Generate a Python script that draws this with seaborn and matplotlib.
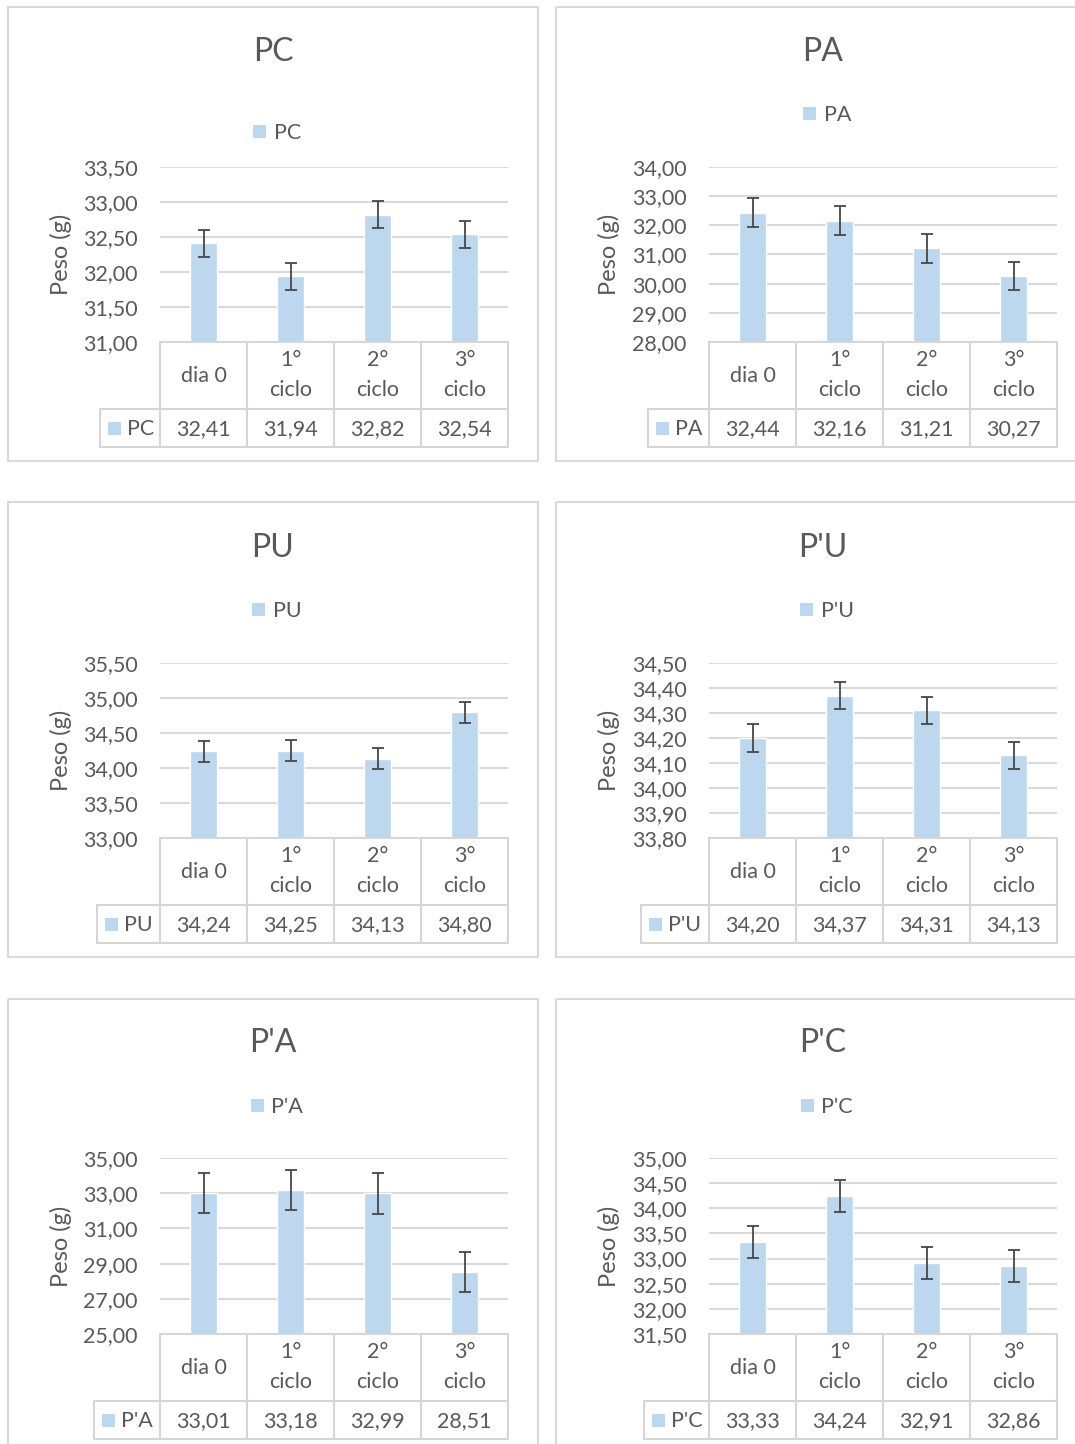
import numpy as np
import matplotlib
matplotlib.use("Agg")
import matplotlib.pyplot as plt
import seaborn as sns
from matplotlib.transforms import Affine2D, blended_transform_factory
from matplotlib.ticker import FuncFormatter
from matplotlib.patches import Rectangle, Patch
from matplotlib.lines import Line2D

# ---- data -------------------------------------------------------------
categories = ["dia 0", "1°\nciclo", "2°\nciclo", "3°\nciclo"]

pc_peso = [32.41, 31.94, 32.82, 32.54]
pa_peso = [32.44, 32.16, 31.21, 30.27]
pu_peso = [34.24, 34.25, 34.13, 34.80]
plu_peso = [34.20, 34.37, 34.31, 34.13]
pla_peso = [33.01, 33.18, 32.99, 28.51]
plc_peso = [33.33, 34.24, 32.91, 32.86]

pc_err = [0.19, 0.19, 0.19, 0.19]
pa_err = [0.49, 0.49, 0.49, 0.49]
pu_err = [0.15, 0.15, 0.15, 0.15]
plu_err = [0.055, 0.055, 0.055, 0.055]
pla_err = [1.15, 1.15, 1.15, 1.15]
plc_err = [0.32, 0.32, 0.32, 0.32]

pc_ticks = [31.00, 31.50, 32.00, 32.50, 33.00, 33.50]
pa_ticks = [28.00, 29.00, 30.00, 31.00, 32.00, 33.00, 34.00]
pu_ticks = [33.00, 33.50, 34.00, 34.50, 35.00, 35.50]
plu_ticks = [33.80, 33.90, 34.00, 34.10, 34.20, 34.30, 34.40, 34.50]
pla_ticks = [25.00, 27.00, 29.00, 31.00, 33.00, 35.00]
plc_ticks = [31.50, 32.00, 32.50, 33.00, 33.50, 34.00, 34.50, 35.00]

titles = ["PC", "PA", "PU", "P'U", "P'A", "P'C"]
y_label = "Peso (g)"

# ---- styling ----------------------------------------------------------
sns.set_style("white")
plt.rcParams["font.family"] = ["Lato", "DejaVu Sans"]

BAR = "#BDD7EE"
GRID = "#D9D9D9"
LINE = "#D6D6D6"
TEXT = "#595959"
ERR = "#474747"
FS = 15.5

W, H = 1075, 1444
fig = plt.figure(figsize=(W / 100, H / 100), dpi=100)
fig.patch.set_facecolor("white")
# pixel coordinates measured from the top-left corner
pix = Affine2D().scale(1, -1).translate(0, H)


def fmt(v):
    return f"{v:.2f}".replace(".", ",")


# panel layout in pixels: frame box, plot area, table rows, header cell
layout = [
    dict(box=(8, 7, 538, 461), plot=(160, 167, 508, 342), rows=(409, 447),
         head=100, title_y=52, legend_y=133, ylab_x=61),
    dict(box=(556, 7, 1090, 461), plot=(709, 167, 1057, 342), rows=(409, 447),
         head=648, title_y=52, legend_y=115, ylab_x=609),
    dict(box=(8, 502, 538, 957), plot=(160, 663, 508, 838), rows=(905, 943),
         head=97, title_y=548, legend_y=611, ylab_x=61),
    dict(box=(556, 502, 1090, 957), plot=(709, 663, 1057, 838), rows=(905, 943),
         head=641, title_y=548, legend_y=611, ylab_x=609),
    dict(box=(8, 999, 538, 1460), plot=(160, 1158, 508, 1334), rows=(1401, 1439),
         head=94, title_y=1043, legend_y=1107, ylab_x=61),
    dict(box=(556, 999, 1090, 1460), plot=(709, 1158, 1057, 1334), rows=(1401, 1439),
         head=644, title_y=1043, legend_y=1107, ylab_x=609),
]

series = [
    (pc_peso, pc_err, pc_ticks),
    (pa_peso, pa_err, pa_ticks),
    (pu_peso, pu_err, pu_ticks),
    (plu_peso, plu_err, plu_ticks),
    (pla_peso, pla_err, pla_ticks),
    (plc_peso, plc_err, plc_ticks),
]

for name, (values, errs, ticks), lay in zip(titles, series, layout):
    bx0, by0, bx1, by1 = lay["box"]
    px0, py0, px1, py1 = lay["plot"]
    r1, r2 = lay["rows"]

    # chart frame
    fig.add_artist(Rectangle((bx0, by0), bx1 - bx0, by1 - by0, transform=pix,
                             fill=False, edgecolor=GRID, lw=1.5, zorder=0))
    cx = (bx0 + bx1) / 2
    fig.text(cx, lay["title_y"], name, transform=pix, ha="center", va="center",
             fontsize=23, color=TEXT)
    fig.legend(handles=[Patch(facecolor=BAR, edgecolor="none", label=name)],
               loc="center", bbox_to_anchor=(cx + 4, lay["legend_y"]),
               bbox_transform=pix, frameon=False, fontsize=FS,
               handlelength=0.6, handleheight=0.6, handletextpad=0.35,
               labelcolor=TEXT, borderpad=0, borderaxespad=0)

    # bar chart
    ax = fig.add_axes([px0 / W, 1 - py1 / H, (px1 - px0) / W, (py1 - py0) / H])
    sns.barplot(x=categories, y=values, ax=ax, color=BAR, saturation=1,
                width=0.31, errorbar=None, zorder=2)
    ax.errorbar(np.arange(len(values)), values, yerr=errs, fmt="none",
                ecolor=ERR, elinewidth=1.3, capsize=4.5, capthick=1.3, zorder=3)
    ax.set_xlim(-0.5, len(values) - 0.5)
    ax.set_ylim(ticks[0], ticks[-1])
    ax.set_yticks(ticks)
    ax.yaxis.set_major_formatter(FuncFormatter(lambda v, p: fmt(v)))
    ax.tick_params(axis="y", length=0, pad=16, labelsize=FS, labelcolor=TEXT)
    ax.set_xticks([])
    ax.set_xlabel("")
    ax.set_ylabel("")
    ax.yaxis.grid(True, color=GRID, lw=1.5)
    ax.set_axisbelow(True)
    for s in ax.spines.values():
        s.set_visible(False)
    ax.patch.set_alpha(0)

    fig.text(lay["ylab_x"], (py0 + py1) / 2, y_label, transform=pix,
             rotation=90, ha="center", va="center", fontsize=17, color=TEXT)

    # data table beneath the plot, columns aligned with the categories
    tx = blended_transform_factory(ax.transData, pix)
    n = len(values)
    edges = np.arange(n + 1) - 0.5
    for e in edges:
        fig.add_artist(Line2D([e, e], [py1, r2], transform=tx, color=LINE, lw=1.5))
    fig.add_artist(Line2D([edges[0], edges[-1]], [py1, py1], transform=tx, color=LINE, lw=1.5))
    fig.add_artist(Line2D([lay["head"], px1], [r1, r1], transform=pix, color=LINE, lw=1.5))
    fig.add_artist(Line2D([lay["head"], px1], [r2, r2], transform=pix, color=LINE, lw=1.5))
    fig.add_artist(Line2D([lay["head"], lay["head"]], [r1, r2], transform=pix, color=LINE, lw=1.5))

    mid1 = (py1 + r1) / 2
    mid2 = (r1 + r2) / 2
    for i, (cat, v) in enumerate(zip(categories, values)):
        parts = cat.split("\n")
        if len(parts) == 1:
            fig.text(i, mid1, parts[0], transform=tx, ha="center", va="center",
                     fontsize=FS, color=TEXT)
        else:
            fig.text(i, mid1 - 15, parts[0], transform=tx, ha="center", va="center",
                     fontsize=FS, color=TEXT)
            fig.text(i, mid1 + 15, parts[1], transform=tx, ha="center", va="center",
                     fontsize=FS, color=TEXT)
        fig.text(i, mid2 + 1, fmt(v), transform=tx, ha="center", va="center",
                 fontsize=FS, color=TEXT)

    # row header: legend key and series name
    hx = lay["head"]
    fig.add_artist(Rectangle((hx + 8, mid2 - 6.5), 13, 13, transform=pix,
                             facecolor=BAR, edgecolor="none"))
    fig.text(hx + 27, mid2 + 1, name, transform=pix, ha="left", va="center",
             fontsize=FS, color=TEXT)

fig.savefig("out.png", dpi=100, facecolor="white")
